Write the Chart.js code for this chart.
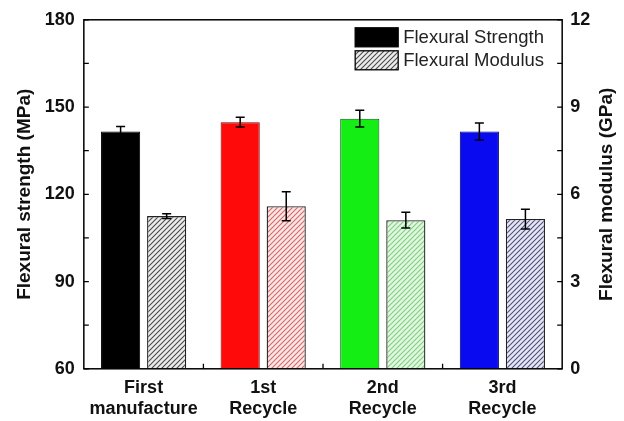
<!DOCTYPE html>
<html>
<head>
<meta charset="utf-8">
<script src="https://cdn.jsdelivr.net/npm/chart.js@4.4.0/dist/chart.umd.min.js"></script>
<style>
  html, body { margin: 0; padding: 0; background: #fff; }
  #wrap { width: 624px; height: 421px; }
</style>
</head>
<body>
<div id="wrap"><canvas id="c" width="624" height="421"></canvas></div>
<script>
// ---- data ----
const categories = [["First", "manufacture"], ["1st", "Recycle"], ["2nd", "Recycle"], ["3rd", "Recycle"]];
const strength = [141.6, 144.8, 146.0, 141.6];      // MPa
const strengthErr = [1.7, 1.7, 2.9, 2.9];
const modulus = [5.25, 5.59, 5.11, 5.15];            // GPa
const modulusErr = [0.08, 0.5, 0.27, 0.34];
const strengthTicks = [60, 90, 120, 150, 180];
const modulusTicks = [0, 3, 6, 9, 12];
const seriesLabels = ["Flexural Strength", "Flexural Modulus"];
const axisTitles = ["Flexural strength (MPa)", "Flexural modulus (GPa)"];

// ---- styles ----
const solidColors = ["#000000", "#ff0a0a", "#14ee14", "#0a0af0"];
const solidBorders = ["#000000", "#7a0000", "#0a5a0a", "#000060"];
const hatchBg = ["#ececec", "#fbe6e6", "#e2f7e2", "#e6e6f6"];
const hatchLine = ["#4a4a4a", "#d46a6a", "#7fcf7f", "#50507a"];

function makeHatch(bg, line) {
  const s = 5;
  const cv = document.createElement("canvas");
  cv.width = s; cv.height = s;
  const g = cv.getContext("2d");
  g.fillStyle = bg; g.fillRect(0, 0, s, s);
  g.strokeStyle = line; g.lineWidth = 1.1;
  g.beginPath();
  g.moveTo(-1, s + 1); g.lineTo(s + 1, -1);
  g.moveTo(-1, 1); g.lineTo(1, -1);
  g.moveTo(s - 1, s + 1); g.lineTo(s + 1, s - 1);
  g.stroke();
  return g.createPattern(cv, "repeat");
}
const hatchPatterns = hatchBg.map((b, i) => makeHatch(b, hatchLine[i]));
const legendHatch = makeHatch("#ececec", "#4a4a4a");

const FONT = "'Liberation Sans', Arial, sans-serif";

// ---- plugins ----
const errorBars = {
  id: "errorBars",
  afterDatasetsDraw(chart) {
    const ctx = chart.ctx;
    const errs = [strengthErr, modulusErr];
    const vals = [strength, modulus];
    ctx.save();
    ctx.strokeStyle = "#000";
    ctx.lineWidth = 1.5;
    chart.data.datasets.forEach((ds, d) => {
      const meta = chart.getDatasetMeta(d);
      const sc = chart.scales[meta.yAxisID];
      meta.data.forEach((bar, i) => {
        const x = bar.x;
        const yt = sc.getPixelForValue(vals[d][i] + errs[d][i]);
        const yb = sc.getPixelForValue(vals[d][i] - errs[d][i]);
        ctx.beginPath();
        ctx.moveTo(x, yt); ctx.lineTo(x, yb);
        ctx.moveTo(x - 4.5, yt); ctx.lineTo(x + 4.5, yt);
        ctx.moveTo(x - 4.5, yb); ctx.lineTo(x + 4.5, yb);
        ctx.stroke();
      });
    });
    ctx.restore();
  }
};

const frameTicks = {
  id: "frameTicks",
  afterDraw(chart) {
    const ctx = chart.ctx;
    const a = chart.chartArea;
    ctx.save();
    ctx.strokeStyle = "#000";
    ctx.lineWidth = 1.5;
    ctx.strokeRect(a.left, a.top, a.right - a.left, a.bottom - a.top);
    ctx.lineWidth = 1.3;
    ctx.beginPath();
    const yl = chart.scales.y, yr = chart.scales.y1, xs = chart.scales.x;
    yl.ticks.forEach(t => {
      const p = yl.getPixelForValue(t.value);
      ctx.moveTo(a.left, p); ctx.lineTo(a.left + 5, p);
    });
    yr.ticks.forEach(t => {
      const p = yr.getPixelForValue(t.value);
      ctx.moveTo(a.right, p); ctx.lineTo(a.right - 5, p);
    });
    for (let i = 1; i < categories.length; i++) {
      const p = (xs.getPixelForValue(i - 1) + xs.getPixelForValue(i)) / 2;
      ctx.moveTo(p, a.bottom); ctx.lineTo(p, a.bottom - 5);
    }
    ctx.stroke();

    // right axis title, reading bottom-to-top like the left one
    ctx.save();
    ctx.translate(yr.right - 4 - 11.4, (a.top + a.bottom) / 2);
    ctx.rotate(-Math.PI / 2);
    ctx.font = "bold 19px " + FONT;
    ctx.fillStyle = "#111";
    ctx.textAlign = "center";
    ctx.textBaseline = "middle";
    ctx.fillText(axisTitles[1], 0, 0);
    ctx.restore();

    // legend inside plot area (top-right)
    const bx = a.right - 207, tx = a.right - 159;
    const rows = [a.top + 8, a.top + 31];
    const fills = ["#000000", legendHatch];
    ctx.font = "18.5px " + FONT;
    ctx.textBaseline = "middle";
    ctx.textAlign = "left";
    chart.data.datasets.forEach((ds, d) => {
      ctx.fillStyle = fills[d];
      ctx.fillRect(bx, rows[d], 43, 19);
      ctx.lineWidth = 1.3;
      ctx.strokeStyle = "#000";
      ctx.strokeRect(bx, rows[d], 43, 19);
      ctx.fillStyle = "#222";
      ctx.fillText(ds.label, tx, rows[d] + 10);
    });
    ctx.restore();
  }
};

new Chart(document.getElementById("c"), {
  type: "bar",
  data: {
    labels: categories,
    datasets: [
      {
        label: seriesLabels[0],
        data: strength,
        yAxisID: "y",
        backgroundColor: solidColors,
        borderColor: solidBorders,
        borderWidth: 1,
        categoryPercentage: 0.77,
        barPercentage: 0.85
      },
      {
        label: seriesLabels[1],
        data: modulus,
        yAxisID: "y1",
        backgroundColor: hatchPatterns,
        borderColor: "#222",
        borderWidth: 1.3,
        categoryPercentage: 0.77,
        barPercentage: 0.85
      }
    ]
  },
  options: {
    responsive: false,
    animation: false,
    devicePixelRatio: 1,
    layout: { padding: { left: 8, right: 2, top: 18, bottom: -7 } },
    plugins: { legend: { display: false }, tooltip: { enabled: false } },
    scales: {
      x: {
        grid: { display: false, drawTicks: false },
        border: { display: false },
        ticks: { color: "#111", font: { family: FONT, size: 18, weight: "bold" }, padding: 8, maxRotation: 0, autoSkip: false }
      },
      y: {
        position: "left",
        min: strengthTicks[0], max: strengthTicks[strengthTicks.length - 1],
        grid: { display: false, drawTicks: false },
        border: { display: false },
        ticks: {
          stepSize: 15, autoSkip: false, padding: 9, color: "#111",
          font: { family: FONT, size: 18, weight: "bold" },
          callback: v => strengthTicks.includes(v) ? String(v) : ""
        },
        title: { display: true, text: axisTitles[0], color: "#111",
                 font: { family: FONT, size: 19, weight: "bold" }, padding: { top: 5, bottom: 0 } }
      },
      y1: {
        position: "right",
        min: modulusTicks[0], max: modulusTicks[modulusTicks.length - 1],
        grid: { display: false, drawTicks: false },
        border: { display: false },
        ticks: {
          stepSize: 1.5, autoSkip: false, padding: 8, color: "#111",
          font: { family: FONT, size: 18, weight: "bold" },
          callback: v => modulusTicks.includes(v) ? String(v) : ""
        },
        // space is reserved here; the visible title is drawn by the plugin
        title: { display: true, text: axisTitles[1], color: "rgba(0,0,0,0)",
                 font: { family: FONT, size: 19, weight: "bold" }, padding: { top: 4, bottom: -3 } }
      }
    }
  },
  plugins: [errorBars, frameTicks]
});
</script>
</body>
</html>
